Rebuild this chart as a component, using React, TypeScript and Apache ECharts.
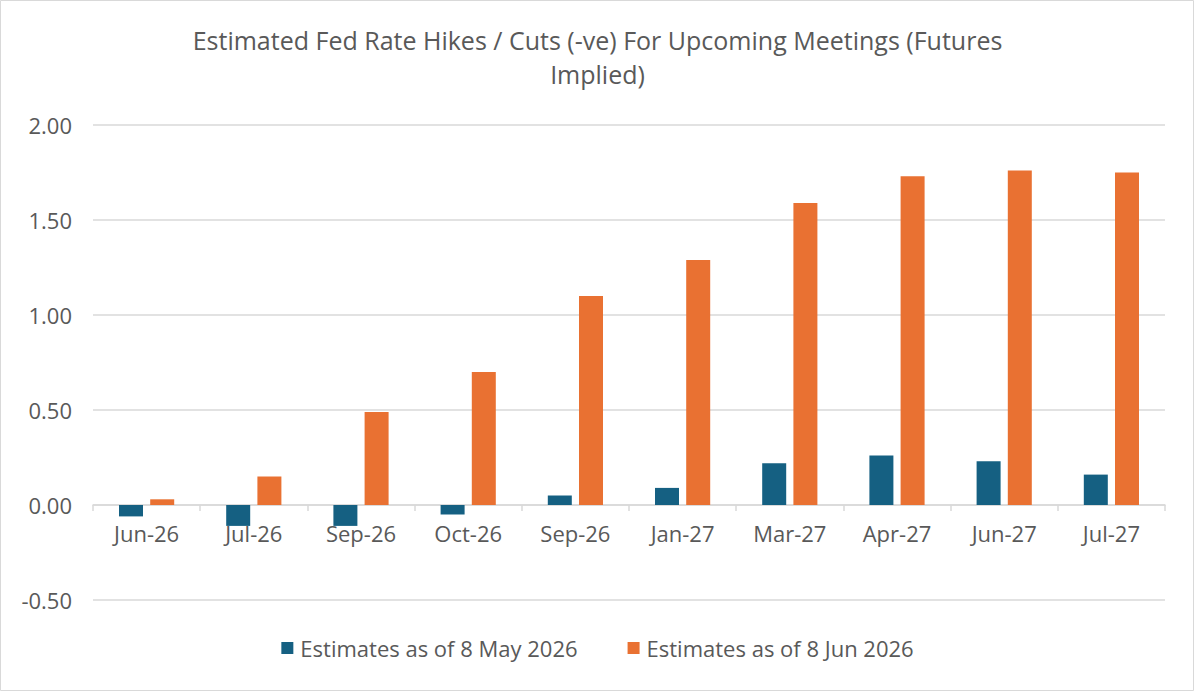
import React, { useEffect, useRef } from "react";
import * as echarts from "echarts";

// Meeting months along the category axis
const meetings = [
  "Jun-26",
  "Jul-26",
  "Sep-26",
  "Oct-26",
  "Sep-26 ",
  "Jan-27",
  "Mar-27",
  "Apr-27",
  "Jun-27",
  "Jul-27",
];

// Cumulative implied hikes / cuts (percentage points)
const estimatesMay = [-0.06, -0.11, -0.11, -0.05, 0.05, 0.09, 0.22, 0.26, 0.23, 0.16];
const estimatesJun = [0.03, 0.15, 0.49, 0.7, 1.1, 1.29, 1.59, 1.73, 1.76, 1.75];

const seriesNames = ["Estimates as of 8 May 2026", "Estimates as of 8 Jun 2026"];
const yTicks = { min: -0.5, max: 2, interval: 0.5 };

const FONT = "'Open Sans', 'Noto Sans', sans-serif";
const TEXT = "#595959";
const GRID = "#d9d9d9";

export default function App() {
  const ref = useRef<HTMLDivElement>(null);

  useEffect(() => {
    if (!ref.current) return;
    const chart = echarts.init(ref.current, undefined, { renderer: "svg" });
    chart.setOption({
      animation: false,
      backgroundColor: "#ffffff",
      textStyle: { fontFamily: FONT, color: TEXT },
      title: {
        text: "Estimated Fed Rate Hikes / Cuts (-ve) For Upcoming Meetings (Futures\nImplied)",
        left: "center",
        top: 18,
        textStyle: {
          fontFamily: FONT,
          fontSize: 25,
          fontWeight: "normal",
          color: TEXT,
          lineHeight: 34,
          align: "center",
        },
      },
      graphic: [
        {
          type: "rect",
          shape: { x: 0.5, y: 0.5, width: 1193, height: 690 },
          style: { fill: "none", stroke: GRID, lineWidth: 1 },
          silent: true,
        },
      ],
      legend: {
        bottom: 28,
        left: "center",
        itemWidth: 12,
        itemHeight: 12,
        itemGap: 50,
        icon: "rect",
        textStyle: { fontFamily: FONT, fontSize: 22, color: TEXT, padding: [0, 0, 0, 2] },
        data: seriesNames,
      },
      grid: { left: 93, right: 30, top: 125, bottom: 92, containLabel: false },
      xAxis: {
        type: "category",
        data: meetings,
        axisLine: { show: true, onZero: true, lineStyle: { color: GRID, width: 1.5 } },
        axisTick: { show: true, alignWithLabel: false, length: 6, lineStyle: { color: GRID, width: 1.5 } },
        axisLabel: {
          fontFamily: FONT,
          fontSize: 22,
          color: TEXT,
          margin: -78,
          interval: 0,
          formatter: (v: string) => v.trim(),
        },
      },
      yAxis: {
        type: "value",
        min: yTicks.min,
        max: yTicks.max,
        interval: yTicks.interval,
        axisLine: { show: false },
        axisTick: { show: false },
        splitLine: { lineStyle: { color: GRID, width: 1.5 } },
        axisLabel: {
          fontFamily: FONT,
          fontSize: 22,
          color: TEXT,
          margin: 21,
          formatter: (v: number) => v.toFixed(2),
        },
      },
      series: [
        {
          name: seriesNames[0],
          type: "bar",
          data: estimatesMay,
          barWidth: 24,
          barGap: "30%",
          itemStyle: { color: "#156082" },
        },
        {
          name: seriesNames[1],
          type: "bar",
          data: estimatesJun,
          barWidth: 24,
          barGap: "30%",
          itemStyle: { color: "#E97132" },
        },
      ],
    });
    return () => chart.dispose();
  }, []);

  return (
    <div
      ref={ref}
      style={{ position: "fixed", left: 0, top: 0, width: 1195, height: 692 }}
    />
  );
}
